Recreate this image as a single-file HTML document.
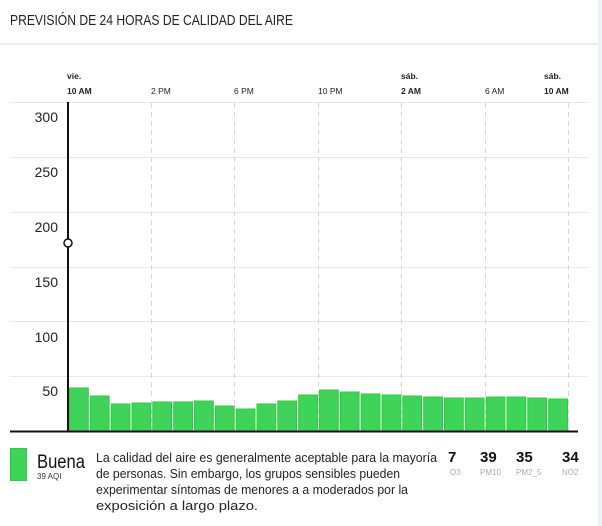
<!DOCTYPE html>
<html><head><meta charset="utf-8"><style>
html,body{margin:0;padding:0;background:#fff;}
svg{display:block;font-family:"Liberation Sans",sans-serif;}
</style></head><body>
<svg width="602" height="526" viewBox="0 0 602 526" xmlns="http://www.w3.org/2000/svg">
<rect width="602" height="526" fill="#fff"/>
<rect x="598" y="0" width="4" height="526" fill="#eef1f7"/>
<rect x="0" y="43" width="598" height="2" fill="#e8ecf5"/>
<text x="10" y="25" font-size="15" fill="#222" textLength="283" lengthAdjust="spacingAndGlyphs">PREVISIÓN DE 24 HORAS DE CALIDAD DEL AIRE</text>
<g stroke="#e8e8e8" stroke-width="1">
<line x1="10" x2="588" y1="102.5" y2="102.5"/>
<line x1="10" x2="588" y1="157.5" y2="157.5"/>
<line x1="10" x2="588" y1="212.5" y2="212.5"/>
<line x1="10" x2="588" y1="267.5" y2="267.5"/>
<line x1="10" x2="588" y1="321.5" y2="321.5"/>
<line x1="10" x2="588" y1="376.5" y2="376.5"/>
</g>
<g stroke="#d4d4d4" stroke-width="1" stroke-dasharray="5,4">
<line x1="151.5" x2="151.5" y1="103" y2="431"/>
<line x1="234.5" x2="234.5" y1="103" y2="431"/>
<line x1="318.5" x2="318.5" y1="103" y2="431"/>
<line x1="401.5" x2="401.5" y1="103" y2="431"/>
<line x1="485.5" x2="485.5" y1="103" y2="431"/>
<line x1="568.5" x2="568.5" y1="103" y2="431"/>
</g>
<g font-size="14" fill="#222" text-anchor="end">
<text x="58" y="122">300</text><text x="58" y="177">250</text><text x="58" y="232">200</text>
<text x="58" y="287">150</text><text x="58" y="342">100</text><text x="58" y="396">50</text>
</g>
<g font-size="8.5" fill="#222">
<text x="67" y="79" font-weight="bold">vie.</text>
<text x="67" y="94" font-weight="bold">10 AM</text>
<text x="151" y="94">2 PM</text>
<text x="234" y="94">6 PM</text>
<text x="318" y="94">10 PM</text>
<text x="401" y="79" font-weight="bold">sáb.</text>
<text x="401" y="94" font-weight="bold">2 AM</text>
<text x="485" y="94">6 AM</text>
<text x="544" y="79" font-weight="bold">sáb.</text>
<text x="544" y="94" font-weight="bold">10 AM</text>
</g>
<g fill="#3fd35a" stroke="#2ecc40" stroke-width="1">
<rect x="69.5" y="388" width="18.8" height="43"/>
<rect x="90.3" y="396" width="18.8" height="35"/>
<rect x="111.2" y="404" width="18.8" height="27"/>
<rect x="132" y="403" width="18.8" height="28"/>
<rect x="152.8" y="402" width="18.8" height="29"/>
<rect x="173.7" y="402" width="18.8" height="29"/>
<rect x="194.5" y="401" width="18.8" height="30"/>
<rect x="215.3" y="406" width="18.8" height="25"/>
<rect x="236.2" y="409" width="18.8" height="22"/>
<rect x="257" y="404" width="18.8" height="27"/>
<rect x="277.8" y="401" width="18.8" height="30"/>
<rect x="298.7" y="395" width="18.8" height="36"/>
<rect x="319.5" y="390" width="18.8" height="41"/>
<rect x="340.3" y="392" width="18.8" height="39"/>
<rect x="361.2" y="394" width="18.8" height="37"/>
<rect x="382" y="395" width="18.8" height="36"/>
<rect x="402.8" y="396" width="18.8" height="35"/>
<rect x="423.7" y="397" width="18.8" height="34"/>
<rect x="444.5" y="398" width="18.8" height="33"/>
<rect x="465.3" y="398" width="18.8" height="33"/>
<rect x="486.2" y="397" width="18.8" height="34"/>
<rect x="507" y="397" width="18.8" height="34"/>
<rect x="527.8" y="398" width="18.8" height="33"/>
<rect x="548.7" y="399" width="18.8" height="32"/>
</g>
<line x1="68" x2="68" y1="102" y2="432" stroke="#111" stroke-width="2"/>
<line x1="10" x2="578" y1="431.5" y2="431.5" stroke="#111" stroke-width="2"/>
<circle cx="68" cy="243" r="4" fill="#fff" stroke="#111" stroke-width="1.5"/>
<rect x="10.5" y="448.5" width="16" height="32" fill="#3fd35a" stroke="#2ecc40"/>
<text x="37" y="468" font-size="19" fill="#111" textLength="48" lengthAdjust="spacingAndGlyphs">Buena</text>
<text x="37" y="479" font-size="8" fill="#333">39 AQI</text>
<g font-size="12.5" fill="#222">
<text x="96" y="462" textLength="341" lengthAdjust="spacingAndGlyphs">La calidad del aire es generalmente aceptable para la mayoría</text>
<text x="96" y="478" textLength="304" lengthAdjust="spacingAndGlyphs">de personas. Sin embargo, los grupos sensibles pueden</text>
<text x="96" y="494" textLength="312" lengthAdjust="spacingAndGlyphs">experimentar síntomas de menores a a moderados por la</text>
<text x="96" y="510" textLength="162" lengthAdjust="spacingAndGlyphs">exposición a largo plazo.</text>
</g>
<g font-size="15" font-weight="bold" fill="#111">
<text x="448" y="462">7</text><text x="480" y="462">39</text><text x="516" y="462">35</text><text x="562" y="462">34</text>
</g>
<g font-size="8" fill="#aaa">
<text x="450" y="475">O3</text><text x="480" y="475">PM10</text><text x="516" y="475">PM2_5</text><text x="562" y="475">NO2</text>
</g>
</svg>
</body></html>
